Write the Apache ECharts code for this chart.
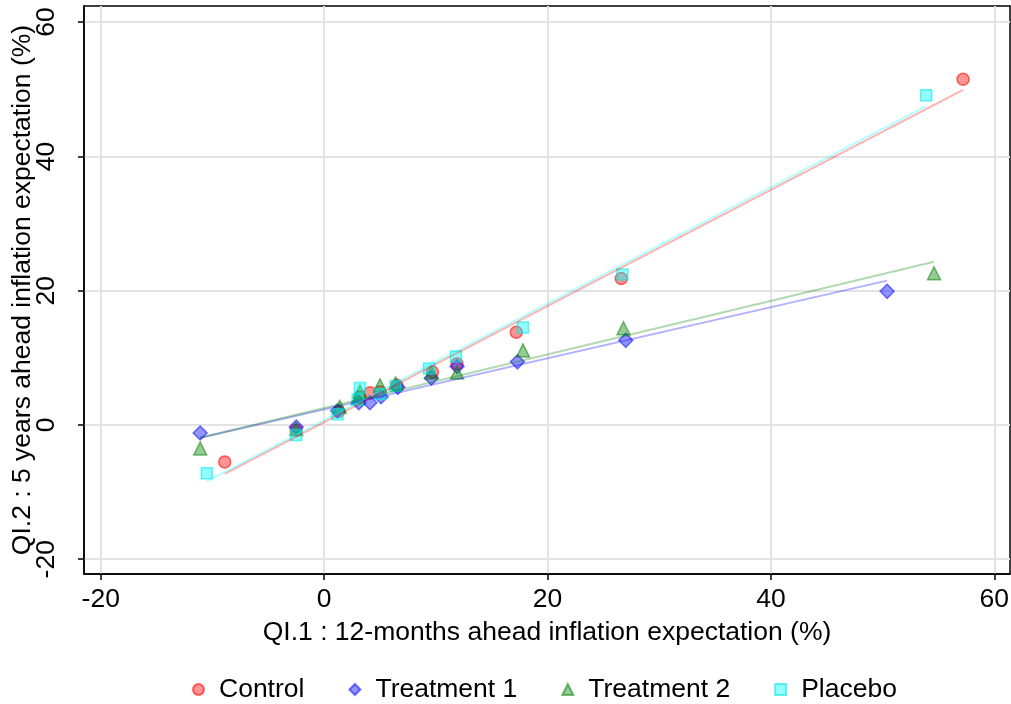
<!DOCTYPE html>
<html>
<head>
<meta charset="utf-8">
<script src="https://cdn.jsdelivr.net/npm/echarts@6/dist/echarts.min.js"></script>
<style>
  html, body { margin: 0; padding: 0; background: #fff; }
  #chart { width: 1011px; height: 704px; }
</style>
</head>
<body>
<div id="chart"></div>
<script>
// Binned means: [12-month expectation, 5-year expectation] per group
const groupNames = ['Control', 'Treatment 1', 'Treatment 2', 'Placebo'];

const controlPoints = [
  [-8.9, -5.5], [-2.5, -0.8], [1.3, 2.0], [3.2, 4.2], [4.1, 4.8], [5.0, 4.9],
  [6.5, 5.9], [9.7, 7.9], [11.9, 9.1], [17.2, 13.8], [26.6, 21.8], [57.2, 51.5]
];
const treatment1Points = [
  [-11.1, -1.2], [-2.5, -0.3], [1.2, 2.1], [3.1, 3.3], [4.1, 3.3], [5.1, 4.2],
  [6.6, 5.6], [9.6, 7.0], [11.9, 8.7], [17.3, 9.4], [27.0, 12.6], [50.4, 19.9]
];
const treatment2Points = [
  [-11.1, -3.5], [-2.5, -0.6], [1.4, 2.7], [3.2, 5.0], [3.0, 4.0], [5.0, 5.9],
  [6.4, 6.2], [9.6, 7.8], [11.9, 7.8], [17.8, 11.1], [26.8, 14.4], [54.6, 22.6]
];
const placeboPoints = [
  [-10.5, -7.2], [-2.5, -1.5], [1.2, 1.6], [3.2, 5.5], [3.0, 3.8], [5.0, 4.6],
  [6.4, 5.8], [9.4, 8.4], [11.8, 10.2], [17.8, 14.5], [26.7, 22.4], [53.9, 49.1]
];

// Linear fit segments (endpoints) for each group
const controlFit = [[-8.9, -7.3], [57.2, 49.9]];
const treatment1Fit = [[-11.1, -1.9], [50.4, 21.5]];
const treatment2Fit = [[-11.1, -1.9], [54.6, 24.3]];
const placeboFit = [[-10.5, -8.4], [53.9, 47.5]];

const xTicks = [-20, 0, 20, 40, 60];
const yTicks = [-20, 0, 20, 40, 60];

const xTitle = 'QI.1 : 12-months ahead inflation expectation (%)';
const yTitle = 'QI.2 : 5 years ahead inflation expectation (%)';

const FONT = '"Liberation Sans", Arial, sans-serif';
const FS = 26.5;

const styles = [
  { symbol: 'circle',   size: 12, fill: 'rgba(255,0,0,0.42)', stroke: 'rgba(255,0,0,0.58)', line: 'rgba(255,0,0,0.30)' },
  { symbol: 'diamond',  size: 14, fill: 'rgba(0,0,255,0.42)', stroke: 'rgba(0,0,255,0.52)', line: 'rgba(0,0,255,0.30)' },
  { symbol: 'triangle', size: 13, fill: 'rgba(0,128,0,0.42)', stroke: 'rgba(0,128,0,0.52)', line: 'rgba(0,128,0,0.30)' },
  { symbol: 'rect',     size: 11, fill: 'rgba(0,255,255,0.42)', stroke: 'rgba(0,230,230,0.58)', line: 'rgba(0,255,255,0.30)' }
];
const pointSets = [controlPoints, treatment1Points, treatment2Points, placeboPoints];
const fitSets = [controlFit, treatment1Fit, treatment2Fit, placeboFit];

const series = [];
pointSets.forEach((pts, i) => {
  const s = styles[i];
  series.push({
    name: groupNames[i],
    type: 'scatter',
    data: pts,
    symbol: s.symbol,
    symbolSize: s.size,
    itemStyle: { color: s.fill, borderColor: s.stroke, borderWidth: 1.5, opacity: 1 },
    emphasis: { disabled: true },
    z: 2
  });
});
fitSets.forEach((seg, i) => {
  series.push({
    name: groupNames[i] + ' fit',
    type: 'line',
    data: seg,
    showSymbol: false,
    symbol: 'none',
    lineStyle: { color: styles[i].line, width: 2 },
    emphasis: { disabled: true },
    z: 3
  });
});

const chart = echarts.init(document.getElementById('chart'), null, { renderer: 'canvas' });
chart.setOption({
  animation: false,
  backgroundColor: '#fff',
  textStyle: { fontFamily: FONT },
  grid: {
    left: 84, right: 1, top: 6, bottom: 130,
    containLabel: false,
    outerBoundsMode: 'none',
    show: true, borderColor: '#000', borderWidth: 1.5, backgroundColor: '#fff'
  },
  legend: {
    data: groupNames,
    top: 671,
    left: 187,
    itemWidth: 11,
    itemHeight: 11,
    itemGap: 44,
    textStyle: { fontFamily: FONT, fontSize: FS, color: '#000', padding: [0, 0, 0, 10] },
    selectedMode: false
  },
  xAxis: {
    type: 'value',
    min: -21.5,
    max: 61.4,
    name: xTitle,
    nameLocation: 'middle',
    nameGap: 45,
    nameTextStyle: { fontFamily: FONT, fontSize: FS, color: '#000' },
    axisLine: { show: true, onZero: false, lineStyle: { color: '#000', width: 1.5 } },
    axisTick: { show: true, length: 6, lineStyle: { color: '#000', width: 1.5 }, customValues: xTicks },
    axisLabel: { fontFamily: FONT, fontSize: FS, color: '#000', margin: 12, customValues: xTicks },
    splitLine: { show: true, lineStyle: { color: '#e3e3e3', width: 2 } }
  },
  yAxis: {
    type: 'value',
    min: -22.2,
    max: 62.4,
    name: yTitle,
    nameLocation: 'middle',
    nameGap: 48,
    nameMoveOverlap: false,
    nameTextStyle: { fontFamily: FONT, fontSize: FS, color: '#000' },
    axisLine: { show: true, onZero: false, lineStyle: { color: '#000', width: 1.5 } },
    axisTick: { show: true, length: 6, lineStyle: { color: '#000', width: 1.5 }, customValues: yTicks },
    axisLabel: { fontFamily: FONT, fontSize: FS, color: '#000', margin: 24, rotate: 90, customValues: yTicks },
    splitLine: { show: true, lineStyle: { color: '#e3e3e3', width: 2 } }
  },
  series: series
});
</script>
</body>
</html>
